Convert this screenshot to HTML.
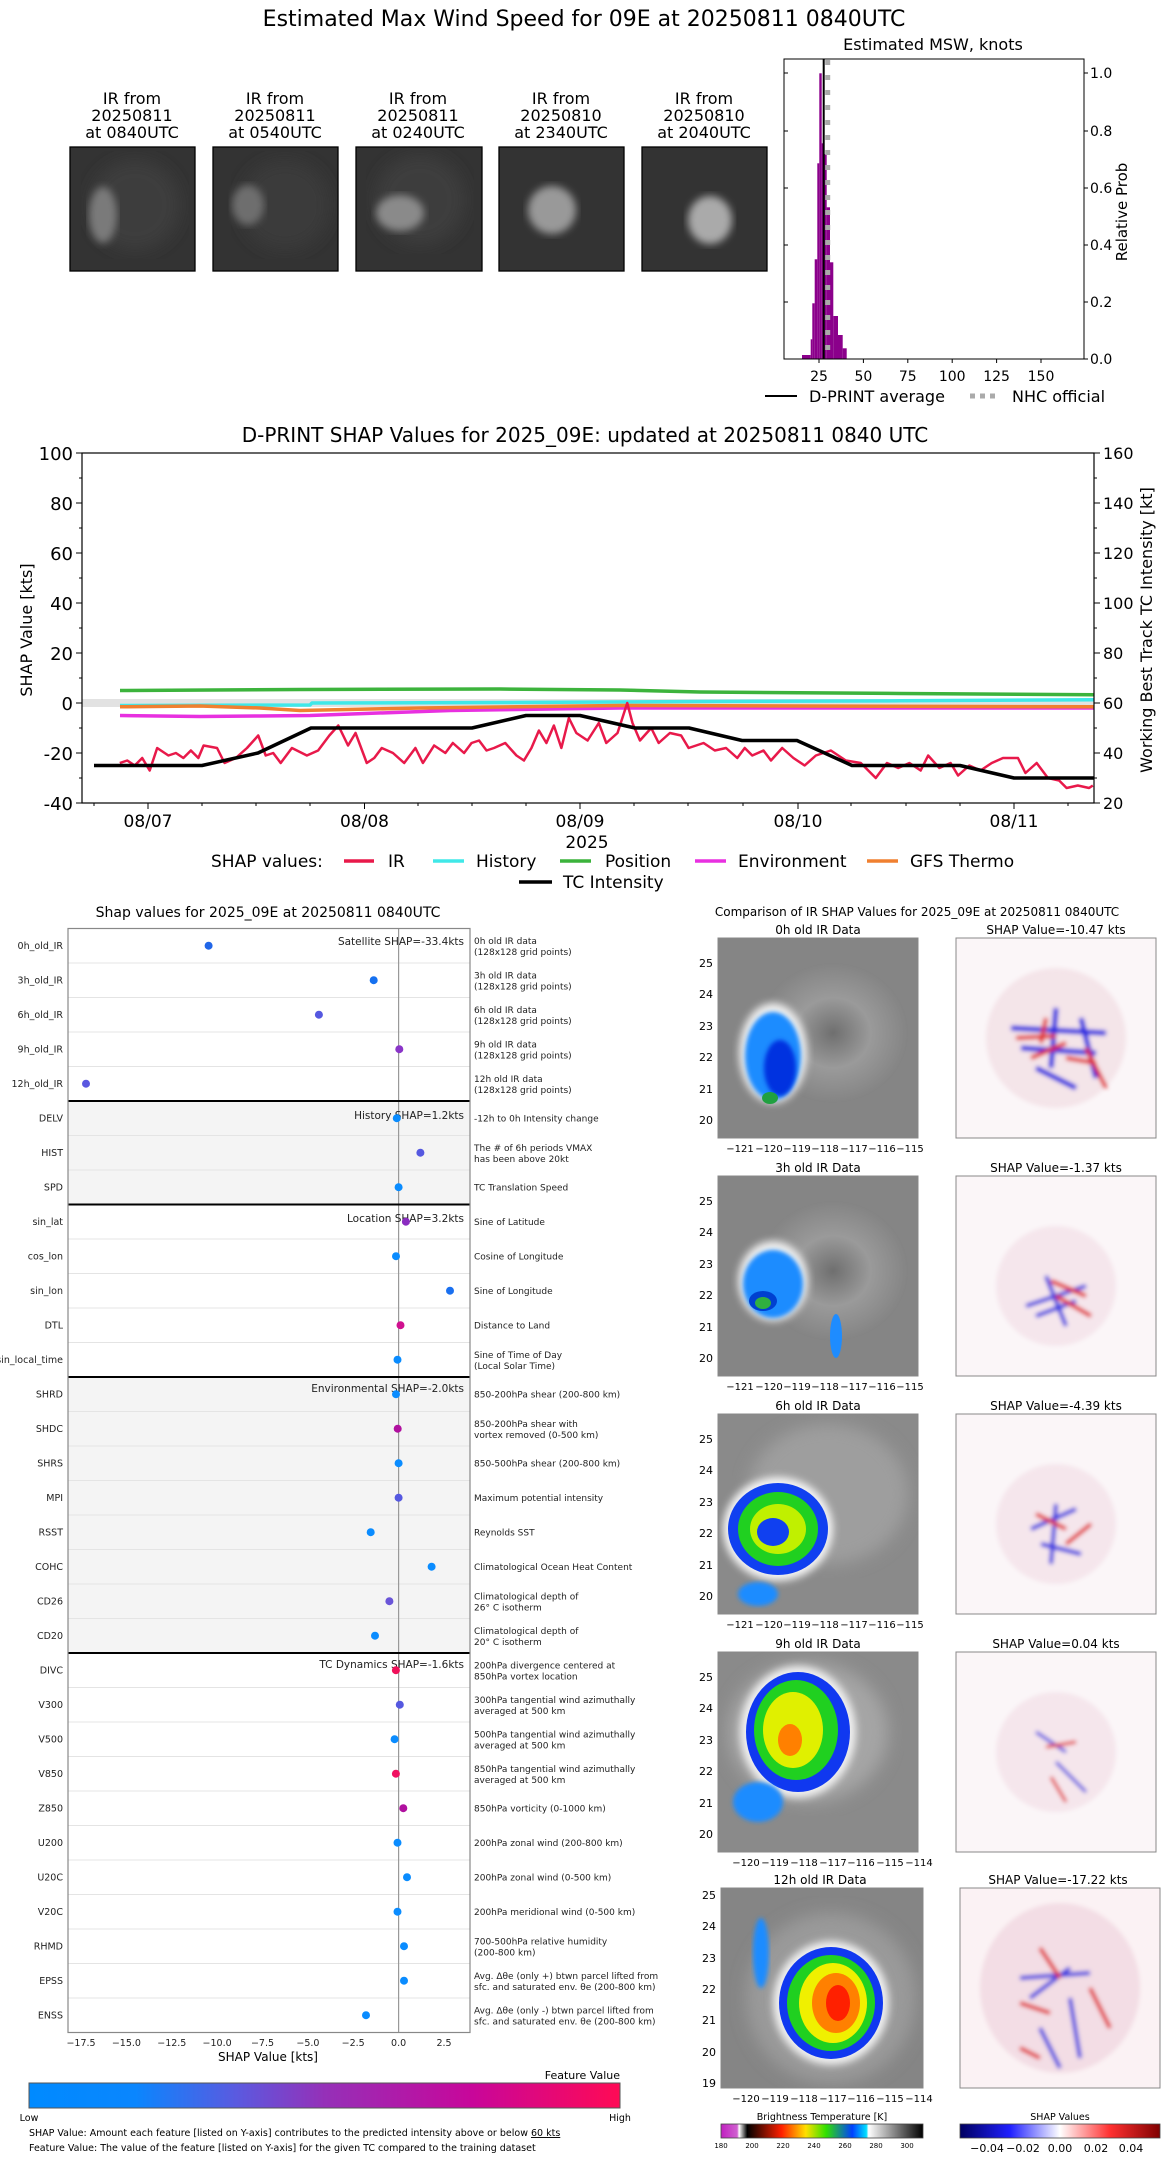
<!DOCTYPE html>
<html><head><meta charset="utf-8"><style>
html,body{margin:0;padding:0;background:#fff;}
svg{display:block;font-family:"DejaVu Sans","Liberation Sans",sans-serif;}
</style></head><body>
<svg width="1168" height="2158" viewBox="0 0 1168 2158" xmlns="http://www.w3.org/2000/svg">
<defs>
<filter id="b2"><feGaussianBlur stdDeviation="2"/></filter>
<filter id="b4"><feGaussianBlur stdDeviation="4"/></filter>
<filter id="b8"><feGaussianBlur stdDeviation="8"/></filter>
<linearGradient id="fv" x1="0" x2="1" y1="0" y2="0">
<stop offset="0" stop-color="#008aff"/><stop offset="0.18" stop-color="#0a86fe"/><stop offset="0.35" stop-color="#5a5ae0"/><stop offset="0.5" stop-color="#9530b8"/><stop offset="0.75" stop-color="#c8069a"/><stop offset="1" stop-color="#ff0a55"/></linearGradient>
<linearGradient id="bt" x1="0" x2="1" y1="0" y2="0">
<stop offset="0" stop-color="#c020c0"/><stop offset="0.08" stop-color="#d060d0"/><stop offset="0.09" stop-color="#fff"/><stop offset="0.13" stop-color="#000"/><stop offset="0.3" stop-color="#ff2000"/><stop offset="0.42" stop-color="#ffe000"/><stop offset="0.52" stop-color="#30e000"/><stop offset="0.65" stop-color="#0040ff"/><stop offset="0.72" stop-color="#00e0ff"/><stop offset="0.73" stop-color="#fff"/><stop offset="1" stop-color="#000"/></linearGradient>
<linearGradient id="sv" x1="0" x2="1" y1="0" y2="0">
<stop offset="0" stop-color="#000060"/><stop offset="0.25" stop-color="#2020ff"/><stop offset="0.5" stop-color="#fff"/><stop offset="0.75" stop-color="#ff3030"/><stop offset="1" stop-color="#800000"/></linearGradient>
<radialGradient id="gr"><stop offset="0" stop-color="#6f6f6f"/><stop offset="0.5" stop-color="#9a9a9a"/><stop offset="1" stop-color="#848484"/></radialGradient>
</defs>

<text x="584" y="26" font-size="22" text-anchor="middle">Estimated Max Wind Speed for 09E at 20250811 0840UTC</text>
<g font-size="16" text-anchor="middle">
<text x="132" y="104">IR from</text><text x="132" y="121">20250811</text><text x="132" y="138">at 0840UTC</text>
<text x="275" y="104">IR from</text><text x="275" y="121">20250811</text><text x="275" y="138">at 0540UTC</text>
<text x="418" y="104">IR from</text><text x="418" y="121">20250811</text><text x="418" y="138">at 0240UTC</text>
<text x="561" y="104">IR from</text><text x="561" y="121">20250810</text><text x="561" y="138">at 2340UTC</text>
<text x="704" y="104">IR from</text><text x="704" y="121">20250810</text><text x="704" y="138">at 2040UTC</text>
</g>
<g>
<rect x="70" y="147" width="125" height="124" fill="#333"/><ellipse cx="135" cy="205" rx="45" ry="45" fill="#3c3c3c" filter="url(#b8)"/><ellipse cx="103" cy="215" rx="14" ry="28" fill="#7a7a7a" filter="url(#b4)"/>
<rect x="213" y="147" width="125" height="124" fill="#333"/><ellipse cx="285" cy="205" rx="45" ry="45" fill="#3a3a3a" filter="url(#b8)"/><ellipse cx="248" cy="205" rx="16" ry="20" fill="#6e6e6e" filter="url(#b4)"/>
<rect x="356" y="147" width="126" height="124" fill="#333"/><ellipse cx="420" cy="200" rx="45" ry="45" fill="#3c3c3c" filter="url(#b8)"/><ellipse cx="400" cy="213" rx="24" ry="18" fill="#8a8a8a" filter="url(#b4)"/>
<rect x="499" y="147" width="125" height="124" fill="#333"/><ellipse cx="552" cy="210" rx="24" ry="24" fill="#999" filter="url(#b4)"/>
<rect x="642" y="147" width="125" height="124" fill="#333"/><ellipse cx="710" cy="220" rx="22" ry="24" fill="#aaa" filter="url(#b4)"/>
</g>
<g fill="none" stroke="#000" stroke-width="1.3">
<rect x="70" y="147" width="125" height="124"/><rect x="213" y="147" width="125" height="124"/><rect x="356" y="147" width="126" height="124"/><rect x="499" y="147" width="125" height="124"/><rect x="642" y="147" width="125" height="124"/>
</g>

<text x="933" y="50" font-size="16" text-anchor="middle">Estimated MSW, knots</text>
<g fill="#8b008b">
<rect x="802" y="355" width="8.7" height="4.3"/><rect x="810.7" y="339.3" width="1.6" height="20"/><rect x="812.3" y="303.3" width="2.4" height="56"/><rect x="814.7" y="259.3" width="2.6" height="100"/><rect x="817.3" y="163.3" width="2" height="196"/><rect x="819.3" y="73.3" width="2.4" height="286"/><rect x="821.7" y="143.3" width="1.6" height="216"/><rect x="823.3" y="154" width="3.4" height="205.3"/><rect x="826.7" y="207.3" width="3.3" height="152"/><rect x="830" y="262.3" width="3.3" height="97"/><rect x="833.3" y="316" width="4.7" height="43.3"/><rect x="838" y="335" width="4.7" height="24.3"/><rect x="842.7" y="348.3" width="4" height="11"/>
</g>
<line x1="827.7" y1="60" x2="827.7" y2="359" stroke="#aaa" stroke-width="5" stroke-dasharray="5,10"/>
<line x1="823.7" y1="59" x2="823.7" y2="359" stroke="#000" stroke-width="2"/>
<rect x="784" y="59" width="300" height="300" fill="none" stroke="#000" stroke-width="1"/>
<g stroke="#000" stroke-width="1">
<line x1="819" y1="359" x2="819" y2="363"/><line x1="863.4" y1="359" x2="863.4" y2="363"/><line x1="907.8" y1="359" x2="907.8" y2="363"/><line x1="952.2" y1="359" x2="952.2" y2="363"/><line x1="996.6" y1="359" x2="996.6" y2="363"/><line x1="1041" y1="359" x2="1041" y2="363"/>
<line x1="1084" y1="359" x2="1088" y2="359"/><line x1="1084" y1="302" x2="1088" y2="302"/><line x1="1084" y1="245" x2="1088" y2="245"/><line x1="1084" y1="188" x2="1088" y2="188"/><line x1="1084" y1="131" x2="1088" y2="131"/><line x1="1084" y1="73" x2="1088" y2="73"/>
<line x1="784" y1="302" x2="788" y2="302"/><line x1="784" y1="245" x2="788" y2="245"/><line x1="784" y1="188" x2="788" y2="188"/><line x1="784" y1="131" x2="788" y2="131"/><line x1="784" y1="73" x2="788" y2="73"/>
</g>
<g font-size="14" text-anchor="middle">
<text x="819" y="381">25</text><text x="863.4" y="381">50</text><text x="907.8" y="381">75</text><text x="952.2" y="381">100</text><text x="996.6" y="381">125</text><text x="1041" y="381">150</text>
</g>
<g font-size="14">
<text x="1090" y="364">0.0</text><text x="1090" y="307">0.2</text><text x="1090" y="250">0.4</text><text x="1090" y="193">0.6</text><text x="1090" y="136">0.8</text><text x="1090" y="78">1.0</text>
</g>
<text transform="translate(1127,212) rotate(-90)" font-size="15" text-anchor="middle">Relative Prob</text>
<line x1="765" y1="396" x2="797" y2="396" stroke="#000" stroke-width="2"/>
<text x="809" y="402" font-size="16">D-PRINT average</text>
<line x1="970" y1="396" x2="1000" y2="396" stroke="#aaa" stroke-width="5" stroke-dasharray="5,5"/>
<text x="1012" y="402" font-size="16">NHC official</text>

<text x="585" y="442" font-size="20" text-anchor="middle">D-PRINT SHAP Values for 2025_09E: updated at 20250811 0840 UTC</text>
<rect x="82" y="699" width="1012" height="8" fill="#e2e2e2"/>
<g fill="none" stroke-linejoin="round">
<path d="M120,690.5 L300,689.5 L500,689 L620,690 L700,692 L900,693.5 L1094,694.7" stroke="#3cb33c" stroke-width="3.5"/>
<path d="M120,705.5 L310,705 L312,703 L500,702.5 L700,701.5 L900,700.8 L1094,699.7" stroke="#40e8e8" stroke-width="3.5"/>
<path d="M120,715.5 L200,716.5 L260,716 L310,715.5 L450,710.5 L620,708 L1094,708" stroke="#e830e0" stroke-width="3.5"/>
<path d="M120,706.8 L200,706 L260,708 L300,710.5 L420,708 L620,705.5 L800,706 L1094,706.8" stroke="#f08030" stroke-width="3.5"/>
<g transform="translate(0,703) scale(0.7485,-2.5)">
<polyline vector-effect="non-scaling-stroke" stroke="#e8194a" stroke-width="2.5" points="160,-24 170,-23 180,-25 190,-22 200,-27 210,-18 225,-21 235,-20 245,-22 255,-19 265,-22 272,-17 290,-18 300,-24 315,-22 330,-18 345,-13 355,-21 365,-20 375,-24 390,-18 410,-21 425,-19 440,-13 452,-9 465,-17 475,-12 490,-24 500,-22 510,-18 525,-20 540,-24 555,-18 565,-24 580,-17 595,-20 605,-16 620,-20 630,-16 640,-15 650,-19 660,-18 675,-16 690,-21 700,-23 710,-18 720,-11 730,-16 740,-9 750,-18 760,-6 770,-12 785,-15 800,-8 810,-16 825,-12 838,0 845,-8 855,-15 870,-10 880,-16 895,-12 910,-13 920,-18 940,-16 955,-19 970,-18 985,-22 995,-18 1005,-21 1020,-19 1030,-23 1045,-18 1060,-22 1075,-25 1090,-21 1110,-19 1130,-23 1150,-24 1160,-27 1170,-30 1185,-24 1200,-26 1215,-24 1230,-27 1240,-21 1255,-26 1270,-24 1280,-29 1295,-25 1310,-27 1325,-24 1340,-22 1360,-22 1370,-28 1385,-24 1400,-30 1415,-31 1425,-34 1440,-33 1455,-34 1460,-33"/>
</g>
<polyline stroke="#000" stroke-width="3.5" points="94,765.5 202,765.5 258,753 311,728 472,728 526,715.5 580,715.5 635,728 689,728 742,740.5 797,740.5 852,765.5 960,765.5 1014,778 1094,778"/>
</g>
<rect x="82" y="453" width="1012" height="350" fill="none" stroke="#000" stroke-width="1.2"/>
<g stroke="#000" stroke-width="1">
<line x1="76" y1="453" x2="82" y2="453"/><line x1="76" y1="503" x2="82" y2="503"/><line x1="76" y1="553" x2="82" y2="553"/><line x1="76" y1="603" x2="82" y2="603"/><line x1="76" y1="653" x2="82" y2="653"/><line x1="76" y1="703" x2="82" y2="703"/><line x1="76" y1="753" x2="82" y2="753"/><line x1="76" y1="803" x2="82" y2="803"/>
<line x1="79" y1="478" x2="82" y2="478"/><line x1="79" y1="528" x2="82" y2="528"/><line x1="79" y1="578" x2="82" y2="578"/><line x1="79" y1="628" x2="82" y2="628"/><line x1="79" y1="678" x2="82" y2="678"/><line x1="79" y1="728" x2="82" y2="728"/><line x1="79" y1="778" x2="82" y2="778"/>
<line x1="1094" y1="453" x2="1100" y2="453"/><line x1="1094" y1="503" x2="1100" y2="503"/><line x1="1094" y1="553" x2="1100" y2="553"/><line x1="1094" y1="603" x2="1100" y2="603"/><line x1="1094" y1="653" x2="1100" y2="653"/><line x1="1094" y1="703" x2="1100" y2="703"/><line x1="1094" y1="753" x2="1100" y2="753"/><line x1="1094" y1="803" x2="1100" y2="803"/>
<line x1="1094" y1="478" x2="1097" y2="478"/><line x1="1094" y1="528" x2="1097" y2="528"/><line x1="1094" y1="578" x2="1097" y2="578"/><line x1="1094" y1="628" x2="1097" y2="628"/><line x1="1094" y1="678" x2="1097" y2="678"/><line x1="1094" y1="728" x2="1097" y2="728"/><line x1="1094" y1="778" x2="1097" y2="778"/>
<line x1="148" y1="803" x2="148" y2="809"/><line x1="364.5" y1="803" x2="364.5" y2="809"/><line x1="580" y1="803" x2="580" y2="809"/><line x1="798" y1="803" x2="798" y2="809"/><line x1="1014" y1="803" x2="1014" y2="809"/>
<line x1="94" y1="803" x2="94" y2="806"/><line x1="202" y1="803" x2="202" y2="806"/><line x1="256" y1="803" x2="256" y2="806"/><line x1="310" y1="803" x2="310" y2="806"/><line x1="418" y1="803" x2="418" y2="806"/><line x1="472" y1="803" x2="472" y2="806"/><line x1="526" y1="803" x2="526" y2="806"/><line x1="634" y1="803" x2="634" y2="806"/><line x1="688" y1="803" x2="688" y2="806"/><line x1="743" y1="803" x2="743" y2="806"/><line x1="851" y1="803" x2="851" y2="806"/><line x1="906" y1="803" x2="906" y2="806"/><line x1="960" y1="803" x2="960" y2="806"/><line x1="1068" y1="803" x2="1068" y2="806"/>
</g>
<g font-size="18" text-anchor="end">
<text x="73" y="460">100</text><text x="73" y="510">80</text><text x="73" y="560">60</text><text x="73" y="610">40</text><text x="73" y="660">20</text><text x="73" y="710">0</text><text x="73" y="760">-20</text><text x="73" y="810">-40</text>
</g>
<g font-size="16">
<text x="1103" y="459">160</text><text x="1103" y="509">140</text><text x="1103" y="559">120</text><text x="1103" y="609">100</text><text x="1103" y="659">80</text><text x="1103" y="709">60</text><text x="1103" y="759">40</text><text x="1103" y="809">20</text>
</g>
<g font-size="17" text-anchor="middle">
<text x="148" y="827">08/07</text><text x="364.5" y="827">08/08</text><text x="580" y="827">08/09</text><text x="798" y="827">08/10</text><text x="1014" y="827">08/11</text>
<text x="587" y="848">2025</text>
</g>
<text transform="translate(32,630) rotate(-90)" font-size="16" text-anchor="middle">SHAP Value [kts]</text>
<text transform="translate(1152,630) rotate(-90)" font-size="16" text-anchor="middle">Working Best Track TC Intensity [kt]</text>
<g font-size="17">
<text x="211" y="867">SHAP values:</text>
<line x1="344" y1="861" x2="374" y2="861" stroke="#e8194a" stroke-width="3.5"/><text x="388" y="867">IR</text>
<line x1="433" y1="861" x2="464" y2="861" stroke="#40e8e8" stroke-width="3.5"/><text x="476" y="867">History</text>
<line x1="560" y1="861" x2="591" y2="861" stroke="#3cb33c" stroke-width="3.5"/><text x="605" y="867">Position</text>
<line x1="695" y1="861" x2="726" y2="861" stroke="#e830e0" stroke-width="3.5"/><text x="738" y="867">Environment</text>
<line x1="867" y1="861" x2="898" y2="861" stroke="#f08030" stroke-width="3.5"/><text x="910" y="867">GFS Thermo</text>
<line x1="519" y1="882" x2="552" y2="882" stroke="#000" stroke-width="3.5"/><text x="563" y="888">TC Intensity</text>
</g>

<text x="268" y="917" font-size="14" text-anchor="middle">Shap values for 2025_09E at 20250811 0840UTC</text>
<rect x="68" y="1101" width="402" height="103.5" fill="#f4f4f4"/>
<rect x="68" y="1377" width="402" height="276" fill="#f4f4f4"/>
<g stroke="#e4e4e4" stroke-width="1">
<line x1="68" y1="963" x2="470" y2="963"/><line x1="68" y1="997.5" x2="470" y2="997.5"/><line x1="68" y1="1032" x2="470" y2="1032"/><line x1="68" y1="1066.5" x2="470" y2="1066.5"/>
<line x1="68" y1="1135.5" x2="470" y2="1135.5"/><line x1="68" y1="1170" x2="470" y2="1170"/>
<line x1="68" y1="1239" x2="470" y2="1239"/><line x1="68" y1="1273.5" x2="470" y2="1273.5"/><line x1="68" y1="1308" x2="470" y2="1308"/><line x1="68" y1="1342.5" x2="470" y2="1342.5"/>
<line x1="68" y1="1411.5" x2="470" y2="1411.5"/><line x1="68" y1="1446" x2="470" y2="1446"/><line x1="68" y1="1480.5" x2="470" y2="1480.5"/><line x1="68" y1="1515" x2="470" y2="1515"/><line x1="68" y1="1549.5" x2="470" y2="1549.5"/><line x1="68" y1="1584" x2="470" y2="1584"/><line x1="68" y1="1618.5" x2="470" y2="1618.5"/>
<line x1="68" y1="1687.5" x2="470" y2="1687.5"/><line x1="68" y1="1722" x2="470" y2="1722"/><line x1="68" y1="1756.5" x2="470" y2="1756.5"/><line x1="68" y1="1791" x2="470" y2="1791"/><line x1="68" y1="1825.5" x2="470" y2="1825.5"/><line x1="68" y1="1860" x2="470" y2="1860"/><line x1="68" y1="1894.5" x2="470" y2="1894.5"/><line x1="68" y1="1929" x2="470" y2="1929"/><line x1="68" y1="1963.5" x2="470" y2="1963.5"/><line x1="68" y1="1998" x2="470" y2="1998"/>
</g>
<line x1="398.6" y1="928.5" x2="398.6" y2="2032.5" stroke="#999" stroke-width="1.2"/>
<g stroke="#000" stroke-width="2">
<line x1="68" y1="1101" x2="470" y2="1101"/><line x1="68" y1="1204.5" x2="470" y2="1204.5"/><line x1="68" y1="1377" x2="470" y2="1377"/><line x1="68" y1="1653" x2="470" y2="1653"/>
</g>
<rect x="68" y="928.5" width="402" height="1104" fill="none" stroke="#888" stroke-width="1.2"/>
<g font-size="10.5" text-anchor="end" fill="#222">
<text x="464" y="945">Satellite SHAP=-33.4kts</text>
<text x="464" y="1119">History SHAP=1.2kts</text>
<text x="464" y="1222">Location SHAP=3.2kts</text>
<text x="464" y="1392">Environmental SHAP=-2.0kts</text>
<text x="464" y="1668">TC Dynamics SHAP=-1.6kts</text>
</g>
<g>
<circle cx="208.6" cy="945.7" r="4" fill="#2166e8"/>
<circle cx="373.7" cy="980.2" r="4" fill="#1570f0"/>
<circle cx="318.9" cy="1014.7" r="4" fill="#5558e0"/>
<circle cx="399.3" cy="1049.2" r="4" fill="#8a35c8"/>
<circle cx="86" cy="1083.7" r="4" fill="#5a58e0"/>
<circle cx="396.8" cy="1118.2" r="4" fill="#0a8cff"/>
<circle cx="420.4" cy="1152.7" r="4" fill="#5558e0"/>
<circle cx="398.6" cy="1187.2" r="4" fill="#0a8cff"/>
<circle cx="405.9" cy="1221.7" r="4" fill="#8a2cc0"/>
<circle cx="396" cy="1256.2" r="4" fill="#0a8cff"/>
<circle cx="450" cy="1290.7" r="4" fill="#1a70f0"/>
<circle cx="400.5" cy="1325.2" r="4" fill="#d0108f"/>
<circle cx="397.5" cy="1359.7" r="4" fill="#0a8cff"/>
<circle cx="396" cy="1394.2" r="4" fill="#0a8cff"/>
<circle cx="397.7" cy="1428.7" r="4" fill="#b0109f"/>
<circle cx="398.6" cy="1463.2" r="4" fill="#0a8cff"/>
<circle cx="398.6" cy="1497.7" r="4" fill="#5558e0"/>
<circle cx="370.7" cy="1532.2" r="4" fill="#0a8cff"/>
<circle cx="431.6" cy="1566.7" r="4" fill="#0a8cff"/>
<circle cx="389.4" cy="1601.2" r="4" fill="#6a55d8"/>
<circle cx="375" cy="1635.7" r="4" fill="#0a8cff"/>
<circle cx="395.9" cy="1670.2" r="4" fill="#f0105a"/>
<circle cx="399.8" cy="1704.7" r="4" fill="#5558e0"/>
<circle cx="394.6" cy="1739.2" r="4" fill="#0a8cff"/>
<circle cx="395.9" cy="1773.7" r="4" fill="#f01060"/>
<circle cx="403.3" cy="1808.2" r="4" fill="#b0109f"/>
<circle cx="397.5" cy="1842.7" r="4" fill="#0a8cff"/>
<circle cx="407" cy="1877.2" r="4" fill="#0a8cff"/>
<circle cx="397.5" cy="1911.7" r="4" fill="#0a8cff"/>
<circle cx="404" cy="1946.2" r="4" fill="#0a8cff"/>
<circle cx="404" cy="1980.7" r="4" fill="#0a8cff"/>
<circle cx="366" cy="2015.2" r="4" fill="#0a8cff"/>
</g>
<g font-size="9.5" text-anchor="end" fill="#222">
<text x="63" y="949">0h_old_IR</text><text x="63" y="983.5">3h_old_IR</text><text x="63" y="1018">6h_old_IR</text><text x="63" y="1052.5">9h_old_IR</text><text x="63" y="1087">12h_old_IR</text>
<text x="63" y="1121.5">DELV</text><text x="63" y="1156">HIST</text><text x="63" y="1190.5">SPD</text>
<text x="63" y="1225">sin_lat</text><text x="63" y="1259.5">cos_lon</text><text x="63" y="1294">sin_lon</text><text x="63" y="1328.5">DTL</text><text x="63" y="1363">sin_local_time</text>
<text x="63" y="1397.5">SHRD</text><text x="63" y="1432">SHDC</text><text x="63" y="1466.5">SHRS</text><text x="63" y="1501">MPI</text><text x="63" y="1535.5">RSST</text><text x="63" y="1570">COHC</text><text x="63" y="1604.5">CD26</text><text x="63" y="1639">CD20</text>
<text x="63" y="1673.5">DIVC</text><text x="63" y="1708">V300</text><text x="63" y="1742.5">V500</text><text x="63" y="1777">V850</text><text x="63" y="1811.5">Z850</text><text x="63" y="1846">U200</text><text x="63" y="1880.5">U20C</text><text x="63" y="1915">V20C</text><text x="63" y="1949.5">RHMD</text><text x="63" y="1984">EPSS</text><text x="63" y="2018.5">ENSS</text>
</g>
<g font-size="9" fill="#222">
<text x="474" y="944">0h old IR data</text><text x="474" y="955">(128x128 grid points)</text>
<text x="474" y="978.5">3h old IR data</text><text x="474" y="989.5">(128x128 grid points)</text>
<text x="474" y="1013">6h old IR data</text><text x="474" y="1024">(128x128 grid points)</text>
<text x="474" y="1047.5">9h old IR data</text><text x="474" y="1058.5">(128x128 grid points)</text>
<text x="474" y="1082">12h old IR data</text><text x="474" y="1093">(128x128 grid points)</text>
<text x="474" y="1121.5">-12h to 0h Intensity change</text>
<text x="474" y="1151">The # of 6h periods VMAX</text><text x="474" y="1162">has been above 20kt</text>
<text x="474" y="1190.5">TC Translation Speed</text>
<text x="474" y="1225">Sine of Latitude</text>
<text x="474" y="1259.5">Cosine of Longitude</text>
<text x="474" y="1294">Sine of Longitude</text>
<text x="474" y="1328.5">Distance to Land</text>
<text x="474" y="1358">Sine of Time of Day</text><text x="474" y="1369">(Local Solar Time)</text>
<text x="474" y="1397.5">850-200hPa shear (200-800 km)</text>
<text x="474" y="1427">850-200hPa shear with</text><text x="474" y="1438">vortex removed (0-500 km)</text>
<text x="474" y="1466.5">850-500hPa shear (200-800 km)</text>
<text x="474" y="1501">Maximum potential intensity</text>
<text x="474" y="1535.5">Reynolds SST</text>
<text x="474" y="1570">Climatological Ocean Heat Content</text>
<text x="474" y="1599.5">Climatological depth of</text><text x="474" y="1610.5">26° C isotherm</text>
<text x="474" y="1634">Climatological depth of</text><text x="474" y="1645">20° C isotherm</text>
<text x="474" y="1668.5">200hPa divergence centered at</text><text x="474" y="1679.5">850hPa vortex location</text>
<text x="474" y="1703">300hPa tangential wind azimuthally</text><text x="474" y="1714">averaged at 500 km</text>
<text x="474" y="1737.5">500hPa tangential wind azimuthally</text><text x="474" y="1748.5">averaged at 500 km</text>
<text x="474" y="1772">850hPa tangential wind azimuthally</text><text x="474" y="1783">averaged at 500 km</text>
<text x="474" y="1811.5">850hPa vorticity (0-1000 km)</text>
<text x="474" y="1846">200hPa zonal wind (200-800 km)</text>
<text x="474" y="1880.5">200hPa zonal wind (0-500 km)</text>
<text x="474" y="1915">200hPa meridional wind (0-500 km)</text>
<text x="474" y="1944.5">700-500hPa relative humidity</text><text x="474" y="1955.5">(200-800 km)</text>
<text x="474" y="1979">Avg. Δθe (only +) btwn parcel lifted from</text><text x="474" y="1990">sfc. and saturated env. θe (200-800 km)</text>
<text x="474" y="2013.5">Avg. Δθe (only -) btwn parcel lifted from</text><text x="474" y="2024.5">sfc. and saturated env. θe (200-800 km)</text>
</g>
<g font-size="9.5" text-anchor="middle" fill="#222">
<text x="81" y="2046">−17.5</text><text x="126.4" y="2046">−15.0</text><text x="171.8" y="2046">−12.5</text><text x="217.1" y="2046">−10.0</text><text x="262.5" y="2046">−7.5</text><text x="307.9" y="2046">−5.0</text><text x="353.2" y="2046">−2.5</text><text x="398.6" y="2046">0.0</text><text x="444" y="2046">2.5</text>
</g>
<text x="268" y="2061" font-size="12" text-anchor="middle">SHAP Value [kts]</text>
<text x="620" y="2079" font-size="11" text-anchor="end">Feature Value</text>
<rect x="29" y="2083" width="591" height="25" fill="url(#fv)" stroke="#555" stroke-width="1"/>
<text x="29" y="2121" font-size="9.5" text-anchor="middle">Low</text>
<text x="620" y="2121" font-size="9.5" text-anchor="middle">High</text>
<text x="29" y="2136" font-size="9.5">SHAP Value: Amount each feature [listed on Y-axis] contributes to the predicted intensity above or below <tspan text-decoration="underline">60 kts</tspan></text>
<text x="29" y="2151" font-size="9.5">Feature Value: The value of the feature [listed on Y-axis] for the given TC compared to the training dataset</text>

<text x="917" y="916" font-size="12" text-anchor="middle">Comparison of IR SHAP Values for 2025_09E at 20250811 0840UTC</text>
<g font-size="12" text-anchor="middle">
<text x="818" y="934">0h old IR Data</text><text x="1056" y="934">SHAP Value=-10.47 kts</text>
<text x="818" y="1172">3h old IR Data</text><text x="1056" y="1172">SHAP Value=-1.37 kts</text>
<text x="818" y="1410">6h old IR Data</text><text x="1056" y="1410">SHAP Value=-4.39 kts</text>
<text x="818" y="1648">9h old IR Data</text><text x="1056" y="1648">SHAP Value=0.04 kts</text>
<text x="820" y="1884">12h old IR Data</text><text x="1058" y="1884">SHAP Value=-17.22 kts</text>
</g>
<g>
<svg x="718" y="938" width="200" height="200"><rect width="200" height="200" fill="#858585"/><ellipse cx="115" cy="95" rx="75" ry="70" fill="url(#gr)"/><ellipse cx="55" cy="115" rx="34" ry="50" fill="#f0f0f0" filter="url(#b4)"/><ellipse cx="55" cy="118" rx="28" ry="44" fill="#1e8cff" filter="url(#b2)"/><ellipse cx="62" cy="130" rx="16" ry="28" fill="#0030e0" filter="url(#b2)"/><ellipse cx="52" cy="160" rx="8" ry="6" fill="#20a040"/></svg>
<svg x="718" y="1176" width="200" height="200"><rect width="200" height="200" fill="#858585"/><ellipse cx="115" cy="95" rx="75" ry="70" fill="url(#gr)"/><ellipse cx="55" cy="105" rx="35" ry="40" fill="#f0f0f0" filter="url(#b4)"/><ellipse cx="55" cy="108" rx="30" ry="34" fill="#1e8cff" filter="url(#b2)"/><ellipse cx="45" cy="125" rx="14" ry="10" fill="#0040d0"/><ellipse cx="45" cy="127" rx="8" ry="6" fill="#30b040"/><ellipse cx="118" cy="160" rx="6" ry="22" fill="#1e8cff"/></svg>
<svg x="718" y="1414" width="200" height="200"><rect width="200" height="200" fill="#8a8a8a"/><ellipse cx="110" cy="80" rx="80" ry="70" fill="#9e9e9e" filter="url(#b8)"/><ellipse cx="60" cy="115" rx="55" ry="52" fill="#f4f4f4" filter="url(#b4)"/><ellipse cx="60" cy="115" rx="50" ry="46" fill="#1040f0"/><ellipse cx="60" cy="115" rx="40" ry="37" fill="#20d020"/><ellipse cx="60" cy="115" rx="28" ry="25" fill="#c0f000"/><ellipse cx="55" cy="118" rx="16" ry="14" fill="#1040f0"/><ellipse cx="40" cy="180" rx="20" ry="12" fill="#1e8cff" filter="url(#b2)"/></svg>
<svg x="718" y="1652" width="200" height="200"><rect width="200" height="200" fill="#8a8a8a"/><ellipse cx="90" cy="80" rx="80" ry="70" fill="#a5a5a5" filter="url(#b8)"/><ellipse cx="80" cy="80" rx="58" ry="66" fill="#f0f0f0" filter="url(#b4)"/><ellipse cx="80" cy="80" rx="52" ry="60" fill="#1038f0"/><ellipse cx="78" cy="78" rx="42" ry="50" fill="#20d020"/><ellipse cx="75" cy="78" rx="30" ry="38" fill="#e0f000"/><ellipse cx="72" cy="88" rx="12" ry="16" fill="#ff8000"/><ellipse cx="40" cy="150" rx="25" ry="20" fill="#1e8cff" filter="url(#b2)"/></svg>
<svg x="721" y="1888" width="202" height="200"><rect width="202" height="200" fill="#858585"/><ellipse cx="110" cy="110" rx="85" ry="85" fill="#9a9a9a" filter="url(#b8)"/><ellipse cx="40" cy="65" rx="8" ry="35" fill="#1e8cff" filter="url(#b2)"/><ellipse cx="110" cy="115" rx="58" ry="62" fill="#f0f0f0" filter="url(#b4)"/><ellipse cx="110" cy="115" rx="52" ry="56" fill="#1038f0"/><ellipse cx="110" cy="115" rx="44" ry="48" fill="#20d020"/><ellipse cx="112" cy="115" rx="34" ry="40" fill="#f0f000"/><ellipse cx="115" cy="115" rx="24" ry="30" fill="#ff8000"/><ellipse cx="117" cy="115" rx="12" ry="18" fill="#ff2000"/></svg>
</g>
<g>
<svg x="956" y="938" width="200" height="200"><rect width="200" height="200" fill="#fbf6f8"/><g filter="url(#b2)"><ellipse cx="100" cy="100" rx="70" ry="70" fill="#f0d8e0" opacity="0.6"/><path d="M55,90 L150,95 M65,110 L140,115 M80,130 L120,150 M100,70 L95,130 M125,80 L140,140" stroke="#2020e0" stroke-width="5" fill="none"/><path d="M60,100 L100,98 M75,120 L110,105 M110,120 L140,125 M90,80 L85,105 M130,110 L150,150" stroke="#e02020" stroke-width="4" fill="none"/></g></svg>
<svg x="956" y="1176" width="200" height="200"><rect width="200" height="200" fill="#fbf6f8"/><g filter="url(#b2)"><ellipse cx="100" cy="110" rx="60" ry="60" fill="#f2dce4" opacity="0.6"/><path d="M70,130 L130,110 M80,140 L120,125 M90,100 L110,150" stroke="#3030e0" stroke-width="4" fill="none"/><path d="M95,105 L130,120 M100,120 L135,140" stroke="#e02020" stroke-width="4" fill="none"/></g></svg>
<svg x="956" y="1414" width="200" height="200"><rect width="200" height="200" fill="#fbf6f8"/><g filter="url(#b2)"><ellipse cx="100" cy="110" rx="60" ry="60" fill="#f2dce4" opacity="0.6"/><path d="M75,115 L120,95 M85,130 L125,140 M100,90 L95,150" stroke="#3030e0" stroke-width="4" fill="none"/><path d="M80,100 L110,115 M110,130 L135,110" stroke="#e02020" stroke-width="4" fill="none"/></g></svg>
<svg x="956" y="1652" width="200" height="200"><rect width="200" height="200" fill="#fbf6f8"/><g filter="url(#b2)"><ellipse cx="100" cy="100" rx="60" ry="60" fill="#f2dce4" opacity="0.6"/><path d="M80,80 L110,100 M100,110 L130,140" stroke="#3030e0" stroke-width="3" fill="none"/><path d="M90,95 L120,90 M95,125 L110,150" stroke="#e02020" stroke-width="3" fill="none"/></g></svg>
<svg x="960" y="1888" width="200" height="200"><rect width="200" height="200" fill="#fbf2f4"/><g filter="url(#b2)"><ellipse cx="100" cy="100" rx="80" ry="85" fill="#f0d4de" opacity="0.7"/><path d="M60,90 L130,85 M70,110 L110,80 M110,110 L120,170 M80,140 L100,180" stroke="#3030e0" stroke-width="4" fill="none"/><path d="M80,60 L100,90 M60,115 L90,125 M130,100 L150,140 M60,160 L80,170" stroke="#e02020" stroke-width="4" fill="none"/></g></svg>
</g>
<g fill="none" stroke="#888" stroke-width="1">
<rect x="718" y="938" width="200" height="200"/><rect x="956" y="938" width="200" height="200"/>
<rect x="718" y="1176" width="200" height="200"/><rect x="956" y="1176" width="200" height="200"/>
<rect x="718" y="1414" width="200" height="200"/><rect x="956" y="1414" width="200" height="200"/>
<rect x="718" y="1652" width="200" height="200"/><rect x="956" y="1652" width="200" height="200"/>
<rect x="721" y="1888" width="202" height="200"/><rect x="960" y="1888" width="200" height="200"/>
</g>
<g font-size="11" text-anchor="end">
<text x="713" y="967">25</text><text x="713" y="998">24</text><text x="713" y="1030">23</text><text x="713" y="1061">22</text><text x="713" y="1093">21</text><text x="713" y="1124">20</text>
<text x="713" y="1205">25</text><text x="713" y="1236">24</text><text x="713" y="1268">23</text><text x="713" y="1299">22</text><text x="713" y="1331">21</text><text x="713" y="1362">20</text>
<text x="713" y="1443">25</text><text x="713" y="1474">24</text><text x="713" y="1506">23</text><text x="713" y="1537">22</text><text x="713" y="1569">21</text><text x="713" y="1600">20</text>
<text x="713" y="1681">25</text><text x="713" y="1712">24</text><text x="713" y="1744">23</text><text x="713" y="1775">22</text><text x="713" y="1807">21</text><text x="713" y="1838">20</text>
<text x="716" y="1899">25</text><text x="716" y="1930">24</text><text x="716" y="1962">23</text><text x="716" y="1993">22</text><text x="716" y="2024">21</text><text x="716" y="2056">20</text><text x="716" y="2087">19</text>
</g>
<g font-size="10" text-anchor="middle">
<text x="740" y="1152">−121</text><text x="769" y="1152">−120</text><text x="797" y="1152">−119</text><text x="825" y="1152">−118</text><text x="854" y="1152">−117</text><text x="882" y="1152">−116</text><text x="910" y="1152">−115</text>
<text x="740" y="1390">−121</text><text x="769" y="1390">−120</text><text x="797" y="1390">−119</text><text x="825" y="1390">−118</text><text x="854" y="1390">−117</text><text x="882" y="1390">−116</text><text x="910" y="1390">−115</text>
<text x="740" y="1628">−121</text><text x="769" y="1628">−120</text><text x="797" y="1628">−119</text><text x="825" y="1628">−118</text><text x="854" y="1628">−117</text><text x="882" y="1628">−116</text><text x="910" y="1628">−115</text>
<text x="746" y="1866">−120</text><text x="775" y="1866">−119</text><text x="804" y="1866">−118</text><text x="833" y="1866">−117</text><text x="861" y="1866">−116</text><text x="890" y="1866">−115</text><text x="919" y="1866">−114</text>
<text x="746" y="2102">−120</text><text x="775" y="2102">−119</text><text x="804" y="2102">−118</text><text x="833" y="2102">−117</text><text x="861" y="2102">−116</text><text x="890" y="2102">−115</text><text x="919" y="2102">−114</text>
</g>
<text x="822" y="2120" font-size="9.5" text-anchor="middle">Brightness Temperature [K]</text>
<rect x="721" y="2124" width="202" height="14" fill="url(#bt)" stroke="#444" stroke-width="0.8"/>
<g font-size="7" text-anchor="middle">
<text x="721" y="2148">180</text><text x="752" y="2148">200</text><text x="783" y="2148">220</text><text x="814" y="2148">240</text><text x="845" y="2148">260</text><text x="876" y="2148">280</text><text x="907" y="2148">300</text>
</g>
<text x="1060" y="2120" font-size="9.5" text-anchor="middle">SHAP Values</text>
<rect x="960" y="2124" width="200" height="14" fill="url(#sv)" stroke="#444" stroke-width="0.8"/>
<g font-size="11" text-anchor="middle">
<text x="987" y="2152">−0.04</text><text x="1023" y="2152">−0.02</text><text x="1060" y="2152">0.00</text><text x="1096" y="2152">0.02</text><text x="1131" y="2152">0.04</text>
</g>
</svg>
</body></html>
